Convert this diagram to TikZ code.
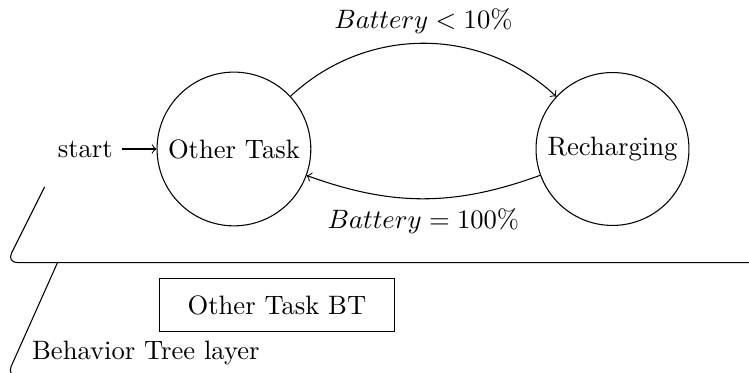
\documentclass[tikz,border=0pt]{standalone}
\usetikzlibrary{automata,positioning}
\begin{document}
\begin{tikzpicture}[
        layer_edge/.style={rounded corners=4pt},
        bt_node/.style={draw, minimum width=3.1cm, minimum height=0.7cm},
        layer_label/.style={anchor=base west},
        every initial by arrow/.style={thin}
    ]
    % Rahmen
    \useasboundingbox (-3.09,-2.946) rectangle (6.803,1.968);
    \clip (-3.09,-2.946) rectangle (6.803,1.968);

    % Ebenen
    \draw[layer_edge] (-2.33,-1.5) -- (-3,-3.0) -- (7.5,-3.0);
    \draw[layer_edge] (-2.5,-0.5) -- (-3,-1.5) -- (7.5,-1.5);

    % Zustaende
    \node[state, initial] (other) at (0,0) {Other Task};
    \node[state] (recharge) at (5,0) {Recharging};

    % Uebergaenge
    \path[->] (other) edge[bend left=43, auto] node {$Battery < 10\%$} (recharge)
              (recharge) edge[bend left=20, auto] node {$Battery = 100\%$} (other);

    % Behavior Tree Ebene
    \node[bt_node] (otherbt) at (0.568,-2.061) {Other Task BT};
    \node[layer_label] (btlabel) at (-2.79,-2.774) {Behavior Tree layer};
\end{tikzpicture}
\end{document}
